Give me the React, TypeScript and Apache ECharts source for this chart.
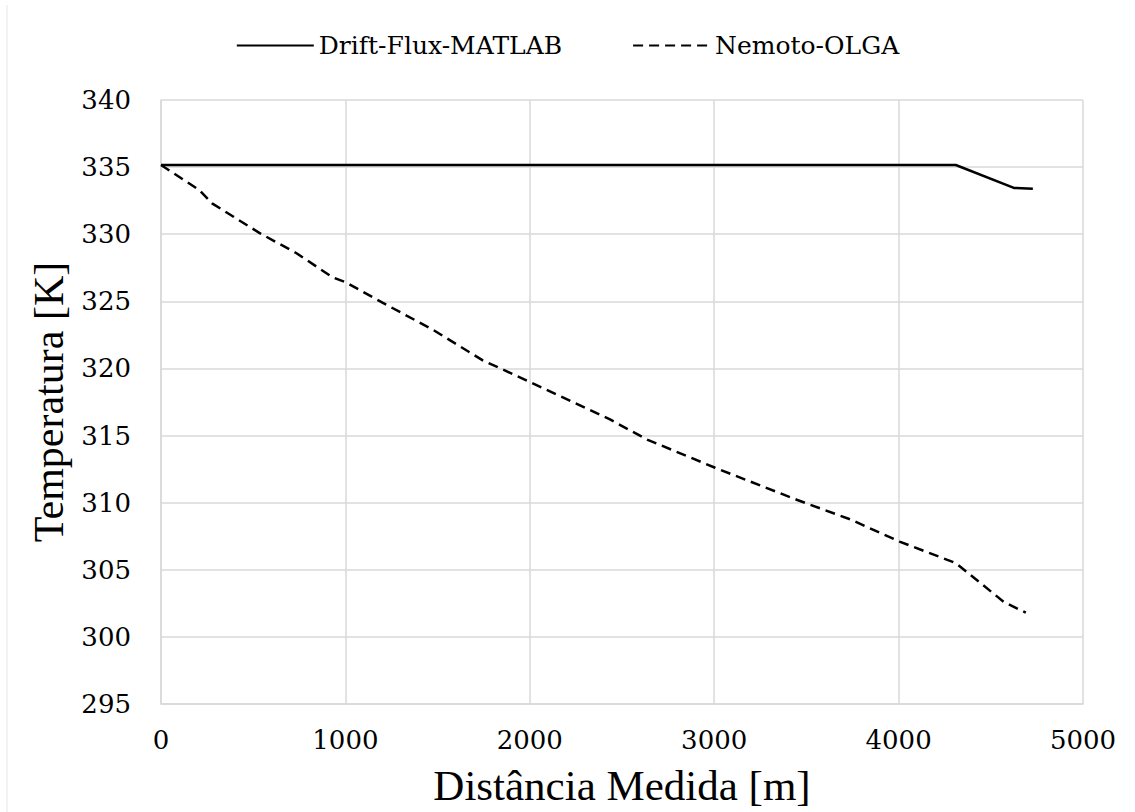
import React, { useEffect, useRef } from "react";
import * as echarts from "echarts";

const seriesNames = ["Drift-Flux-MATLAB", "Nemoto-OLGA"];

const driftDistance = [0, 4310, 4625, 4728];
const driftTemp = [335.16, 335.16, 333.45, 333.38];

const olgaDistance = [0, 207, 277, 533, 733, 929, 1005, 1201, 1473, 1745, 1984, 2435, 2636, 3005, 3451, 3739, 4005, 4310, 4571, 4690];
const olgaTemp = [335.16, 333.3, 332.3, 330.1, 328.6, 326.8, 326.4, 324.9, 322.9, 320.6, 319.1, 316.2, 314.7, 312.6, 310.2, 308.75, 307.1, 305.5, 302.6, 301.8];

const xTicks = { min: 0, max: 5000, interval: 1000 };
const yTicks = { min: 295, max: 340, interval: 5 };

const FONT = "Liberation Serif";
const SMALL_FONT = "DejaVu Serif";

export default function App() {
  const ref = useRef<HTMLDivElement>(null);
  useEffect(() => {
    document.body.style.margin = "0";
    if (!ref.current) return;
    const chart = echarts.init(ref.current, null, { renderer: "svg" });
    const grid = "#d9d9d9";
    chart.setOption({
      animation: false,
      backgroundColor: "#ffffff",
      textStyle: { fontFamily: FONT, color: "#000" },
      graphic: [
        {
          type: "line",
          shape: { x1: 7, y1: 5, x2: 7, y2: 812 },
          style: { stroke: "#e6e6e6", lineWidth: 1 },
        },
      ],
      legend: {
        top: 28,
        left: "center",
        itemWidth: 77,
        itemHeight: 14,
        itemGap: 70,
        itemStyle: { color: "rgba(0,0,0,0)", borderWidth: 0, opacity: 0 },
        textStyle: { fontFamily: SMALL_FONT, fontSize: 25, color: "#000" },
        data: seriesNames,
      },
      grid: { left: 161, right: 52, top: 100, bottom: 107 },
      xAxis: {
        type: "value",
        min: xTicks.min,
        max: xTicks.max,
        interval: xTicks.interval,
        name: "Distância Medida [m]",
        nameLocation: "middle",
        nameGap: 60,
        nameTextStyle: { fontFamily: FONT, fontSize: 43, color: "#000" },
        axisLine: { show: true, lineStyle: { color: grid, width: 1.5 } },
        axisTick: { show: false },
        axisLabel: {
          fontFamily: SMALL_FONT,
          fontSize: 26,
          color: "#000",
          margin: 23,
          formatter: (v: number) => String(v),
        },
        splitLine: { show: true, lineStyle: { color: grid, width: 1.5 } },
      },
      yAxis: {
        type: "value",
        min: yTicks.min,
        max: yTicks.max,
        interval: yTicks.interval,
        name: "Temperatura [K]",
        nameLocation: "middle",
        nameGap: 85,
        nameRotate: 90,
        nameTextStyle: { fontFamily: FONT, fontSize: 42, color: "#000" },
        axisLine: { show: true, lineStyle: { color: grid, width: 1.5 } },
        axisTick: { show: false },
        axisLabel: {
          fontFamily: SMALL_FONT,
          fontSize: 26,
          color: "#000",
          margin: 30,
          formatter: (v: number) => String(v),
        },
        splitLine: { show: true, lineStyle: { color: grid, width: 1.5 } },
      },
      series: [
        {
          name: seriesNames[0],
          type: "line",
          symbol: "none",
          data: driftDistance.map((d, i) => [d, driftTemp[i]]),
          lineStyle: { color: "#000", width: 2.5, type: "solid" },
          itemStyle: { color: "#000" },
        },
        {
          name: seriesNames[1],
          type: "line",
          symbol: "none",
          data: olgaDistance.map((d, i) => [d, olgaTemp[i]]),
          lineStyle: { color: "#000", width: 2.5, type: [10, 6] },
          itemStyle: { color: "#000" },
        },
      ],
    });
    return () => chart.dispose();
  }, []);
  return <div ref={ref} style={{ width: 1135, height: 812 }} />;
}
